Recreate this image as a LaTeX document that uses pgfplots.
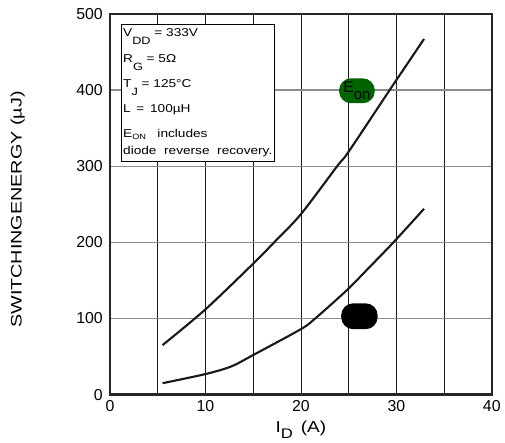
\documentclass[border=0pt]{standalone}
\usepackage{pgfplots}
\pgfplotsset{compat=1.18}
\usepackage{fontspec}
\setmainfont{Liberation Sans}
\newfontfamily\wide[FakeStretch=1.2]{Liberation Sans}
\newfontfamily\wider[FakeStretch=1.3]{Liberation Sans}
\definecolor{eongreen}{HTML}{006400}
\definecolor{gridgray}{HTML}{8C8C8C}
\newcommand\bsub[1]{\raisebox{-6pt}{\fontsize{8}{8}\selectfont #1}}
\begin{document}
\begin{tikzpicture}[x=1pt,y=1pt]
\begin{axis}[
  scale only axis,
  width=288.75pt, height=288pt,
  xmin=0, xmax=40, ymin=0, ymax=500,
  xtick={0,10,20,30,40},
  ytick={0,100,200,300,400,500},
  minor xtick={5,15,25,35},
  xmajorgrids=true, xminorgrids=true, ymajorgrids=true,
  x grid style={black!90, line width=0.55pt},
  minor x grid style={black!90, line width=0.55pt},
  y grid style={gridgray, line width=0.95pt},
  major tick length=0pt, minor tick length=0pt,
  axis line style={line width=1.9pt, black!85},
  tick label style={font=\fontsize{12}{14}\selectfont},
  /pgf/number format/assume math mode=true,
  xticklabel style={yshift=-1pt},
  yticklabel style={xshift=-2pt},
  xlabel={{\wide I\raisebox{-4pt}{\fontsize{10.5}{10}\selectfont D} \,(A)}},
  xlabel style={font=\fontsize{12}{14}\selectfont, at={(axis description cs:0.5,-0.058)}, anchor=north},
  ylabel={{\wider SWITCHINGENERGY (µJ)}},
  ylabel style={font=\fontsize{11.5}{14}\selectfont, at={(axis description cs:-0.242,0.486)}, anchor=center},
  clip=false,
]
\addplot[black!90, line width=1.6pt, smooth, tension=0.5] coordinates {
(5.5,65) (10,112) (15,172) (17.2,200) (20,237) (23.8,300) (25,319) (29.3,400) (30,413) (32.9,467)
};
\addplot[black!90, line width=1.6pt, smooth, tension=0.5] coordinates {
(5.5,15) (10,27) (12.7,37) (15,52) (20,86) (21.5,100) (24.8,137) (27,165) (29.7,200) (32.9,244)
};
\draw[black, line width=0.6pt, fill=white] (axis cs:1.14,485.7) rectangle (axis cs:17.25,306);
\begin{scope}[every node/.style={anchor=base west, inner sep=0pt, font=\wide\fontsize{8.6}{10}\selectfont}]
\node at (axis cs:1.35,470.4) {V\bsub{DD} = 333V};
\node at (axis cs:1.35,435.8) {R\bsub{G} = 5Ω};
\node at (axis cs:1.35,403.3) {T\bsub{J} = 125°C};
\node at (axis cs:1.35,370.7) {L\, =\, 100µH};
\node at (axis cs:1.35,337.2) {E\raisebox{-1pt}{\fontsize{5.8}{6}\selectfont ON}\ \ \ includes};
\node at (axis cs:1.35,315.1) {diode\ \ reverse\ \ recovery.};
\end{scope}
\node[fill=eongreen, rounded corners=9pt, minimum width=27pt, minimum height=18.75pt, inner sep=0pt]
  at (axis cs:25.87,399) {\fontsize{11.8}{12}\selectfont E\raisebox{-5pt}{\fontsize{11.3}{12}\selectfont on}};
\node[fill=black, rounded corners=9pt, minimum width=27.5pt, minimum height=19.5pt, inner sep=0pt]
  at (axis cs:26.13,102.9) {};
\coordinate (O) at (rel axis cs:0,0);
\end{axis}
\path (O) ++(-83.25pt,-32.25pt) rectangle ++(378.75pt,330.75pt);
\end{tikzpicture}
\end{document}
